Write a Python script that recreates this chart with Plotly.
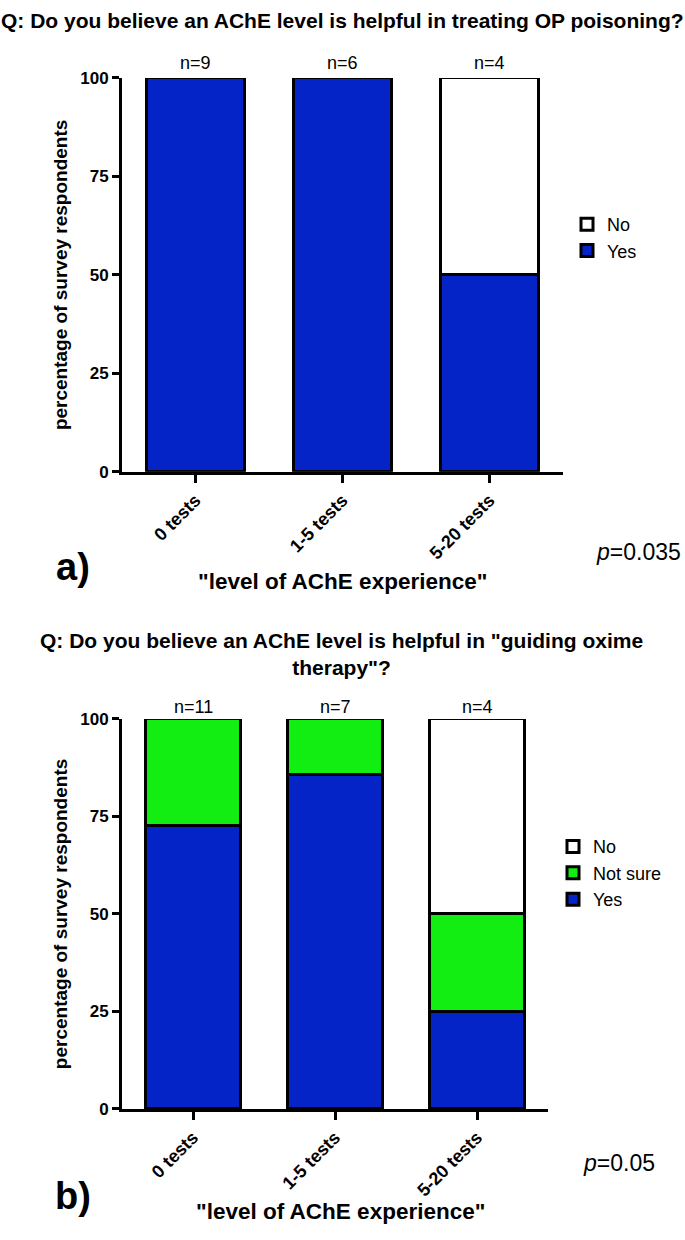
import plotly.graph_objects as go

# survey data (percent of respondents)
groups = ["0 tests", "1-5 tests", "5-20 tests"]

a_yes = [100, 100, 50]
a_no = [0, 0, 50]
a_n = ["n=9", "n=6", "n=4"]

b_yes = [72.7, 85.7, 25]
b_notsure = [27.3, 14.3, 25]
b_no = [0, 0, 50]
b_n = ["n=11", "n=7", "n=4"]

BLUE = "#0424C8"
GREEN = "#12EE12"
FONT = "Liberation Sans, Arial, Helvetica, sans-serif"
H = 1240

def py(px):
    # pixel row -> paper y
    return 1 - px / H

fig = go.Figure()

bar_style = dict(marker_line_color="black", marker_line_width=3, width=0.67)

fig.add_trace(go.Bar(x=groups, y=a_yes, name="Yes", marker_color=BLUE,
                     xaxis="x", yaxis="y", legend="legend", **bar_style))
fig.add_trace(go.Bar(x=groups, y=a_no, name="No", marker_color="white",
                     xaxis="x", yaxis="y", legend="legend", **bar_style))

fig.add_trace(go.Bar(x=groups, y=b_yes, name="Yes", marker_color=BLUE,
                     xaxis="x2", yaxis="y2", legend="legend2", **bar_style))
fig.add_trace(go.Bar(x=groups, y=b_notsure, name="Not sure", marker_color=GREEN,
                     xaxis="x2", yaxis="y2", legend="legend2", **bar_style))
fig.add_trace(go.Bar(x=groups, y=b_no, name="No", marker_color="white",
                     xaxis="x2", yaxis="y2", legend="legend2", **bar_style))

xax = dict(type="category", range=[-0.5, 2.5], showline=True, linecolor="black",
           linewidth=3, ticks="outside", ticklen=8, tickwidth=3, tickcolor="black",
           tickangle=-45, tickfont=dict(family=FONT, size=18, color="black", weight="bold"),
           showgrid=False, zeroline=False)
yax = dict(range=[0, 100], tickvals=[0, 25, 50, 75, 100], showline=True,
           linecolor="black", linewidth=3, ticks="outside", ticklen=7, tickwidth=3,
           tickcolor="black", tickfont=dict(family=FONT, size=17, color="black", weight="bold"),
           showgrid=False, zeroline=False,
           title=dict(text="percentage of survey respondents", standoff=8,
                      font=dict(family=FONT, size=19, color="black", weight="bold")))

fig.update_layout(
    width=685, height=H,
    margin=dict(l=0, r=0, t=0, b=0),
    plot_bgcolor="white", paper_bgcolor="white",
    barmode="stack",
    font=dict(family=FONT, color="black"),
    xaxis=dict(domain=[122 / 685, 563 / 685], anchor="y", **xax),
    yaxis=dict(domain=[py(470), py(70)], anchor="x", **yax),
    xaxis2=dict(domain=[122 / 685, 548 / 685], anchor="y2", **xax),
    yaxis2=dict(domain=[py(1117), py(721)], anchor="x2", **yax),
    legend=dict(x=567 / 685, y=py(200), xanchor="left", yanchor="top",
                traceorder="reversed", font=dict(family=FONT, size=18),
                bgcolor="rgba(0,0,0,0)"),
    legend2=dict(x=553 / 685, y=py(832), xanchor="left", yanchor="top",
                 traceorder="reversed", font=dict(family=FONT, size=18),
                 bgcolor="rgba(0,0,0,0)"),
)

# n labels above bars
for g, t in zip(groups, a_n):
    fig.add_annotation(x=g, y=100, xref="x", yref="y", text=t, showarrow=False,
                       yanchor="middle", yshift=15, font=dict(family=FONT, size=18))
for g, t in zip(groups, b_n):
    fig.add_annotation(x=g, y=100, xref="x2", yref="y2", text=t, showarrow=False,
                       yanchor="middle", yshift=12, font=dict(family=FONT, size=18))

bold = dict(family=FONT, color="black", weight="bold")
notes = [
    ("Q: Do you believe an AChE level is helpful in treating OP poisoning?", 342, 12, 21),
    ("\"level of AChE experience\"", 342, 581, 22.5),
    ("a)", 73, 567, 38),
    ("Q: Do you believe an AChE level is helpful in \"guiding oxime<br>therapy\"?", 341, 655, 21),
    ("\"level of AChE experience\"", 340, 1221, 22.5),
    ("b)", 73, 1205, 38),
]
for text, x, y, size in notes:
    fig.add_annotation(x=x / 685, y=py(y), xref="paper", yref="paper", text=text,
                       showarrow=False, xanchor="center", yanchor="middle", align="center",
                       font=dict(size=size, **bold))

fig.add_annotation(x=683 / 685, y=py(551), xref="paper", yref="paper",
                   text="<i>p</i>=0.035", showarrow=False, xanchor="right", yanchor="middle",
                   font=dict(family=FONT, size=23, color="black"))
fig.add_annotation(x=657 / 685, y=py(1172), xref="paper", yref="paper",
                   text="<i>p</i>=0.05", showarrow=False, xanchor="right", yanchor="middle",
                   font=dict(family=FONT, size=23, color="black"))

# drop the default page margin so the 685x1240 figure fills the window exactly
fig.write_html("out.html", config={"displayModeBar": False},
               post_script="document.body.style.margin='0';")
